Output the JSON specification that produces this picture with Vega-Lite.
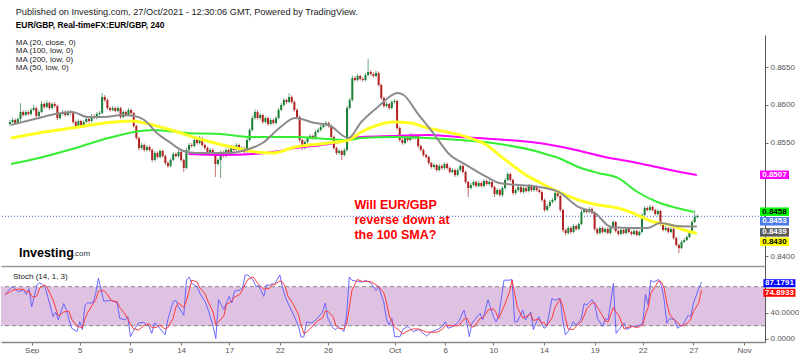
{
"$schema":"https://vega.github.io/schema/vega-lite/v6.json",
"background":"white",
"padding":{"left":0,"top":7,"right":0,"bottom":0},
"config":{"view":{"stroke":null},"font":"Liberation Sans","axis":{"labelFont":"Liberation Sans","labelFontSize":8,"labelColor":"#555555","tickColor":"#777777","domainColor":"#666666","grid":false,"title":null}},
"spacing":0,
"bounds":"flush",
"vconcat":[
{
"width":764,"height":231,
"layer":[
{"data":{"values":[{}]},"mark":{"type":"rule","color":"#3b64d8","strokeDash":[1,2],"strokeWidth":1},"encoding":{"y":{"datum":0.8453}}},
{"data":{"name":"candles"},"mark":{"type":"rule","strokeWidth":1},
 "encoding":{"x":{"field":"i","type":"quantitative","scale":{"domain":[-11.5,274.8],"nice":false,"zero":false},"axis":{"orient":"bottom","labels":false,"ticks":false,"domain":true,"domainColor":"#999999","domainWidth":1.5}},
 "y":{"field":"l","type":"quantitative","scale":{"domain":[0.83874,0.86923],"nice":false,"zero":false},"axis":{"orient":"right","values":[0.84,0.855,0.86,0.865],"format":".4f","tickSize":3,"labelPadding":2,"domainColor":"#555555"}},
 "y2":{"field":"h"},
 "color":{"condition":{"test":"datum.c >= datum.o","value":"#6fa882"},"value":"#c27070"}}},
{"data":{"name":"candles"},"mark":{"type":"bar","width":2},
 "encoding":{"x":{"field":"i","type":"quantitative"},"y":{"field":"o","type":"quantitative"},"y2":{"field":"c"},
 "color":{"condition":{"test":"datum.c >= datum.o","value":"#1a7f37"},"value":"#b22222"}}},
{"data":{"name":"ma200"},"mark":{"type":"line","color":"#ff00ff","strokeWidth":2,"interpolate":"monotone"},"encoding":{"x":{"field":"i","type":"quantitative"},"y":{"field":"v","type":"quantitative"}}},
{"data":{"name":"ma100"},"mark":{"type":"line","color":"#33ee33","strokeWidth":2,"interpolate":"monotone"},"encoding":{"x":{"field":"i","type":"quantitative"},"y":{"field":"v","type":"quantitative"}}},
{"data":{"name":"ma50"},"mark":{"type":"line","color":"#ffff22","strokeWidth":3,"interpolate":"monotone"},"encoding":{"x":{"field":"i","type":"quantitative"},"y":{"field":"v","type":"quantitative"}}},
{"data":{"name":"ma20"},"mark":{"type":"line","color":"#8c8c8c","strokeWidth":2,"interpolate":"monotone"},"encoding":{"x":{"field":"i","type":"quantitative"},"y":{"field":"v","type":"quantitative"}}},
{"data":{"values":[{}]},"mark":{"type":"text","align":"left","baseline":"middle","fontSize":9.2,"color":"#222222"},"encoding":{"x":{"datum":-7.8},"y":{"datum":0.87227},"text":{"value":"Published on Investing.com, 27/Oct/2021 - 12:30:06 GMT, Powered by TradingView."}}},
{"data":{"values":[{}]},"mark":{"type":"text","align":"left","baseline":"middle","fontSize":8.4,"fontWeight":"bold","color":"#000000"},"encoding":{"x":{"datum":-7.8},"y":{"datum":0.87055},"text":{"value":"EUR/GBP, Real-timeFX:EUR/GBP, 240"}}},
{"data":{"values":[{}]},"mark":{"type":"text","align":"left","baseline":"top","fontSize":8,"lineHeight":8.4,"color":"#222222"},"encoding":{"x":{"datum":-7.8},"y":{"datum":0.8687},"text":{"value":["MA (20, close, 0)","MA (100, low, 0)","MA (200, low, 0)","MA (50, low, 0)"]}}},
{"data":{"values":[{}]},"mark":{"type":"text","align":"left","baseline":"middle","fontSize":12.5,"fontWeight":"bold","color":"#000000"},"encoding":{"x":{"datum":-6.6},"y":{"datum":0.84045},"text":{"value":"Investing"}}},
{"data":{"values":[{}]},"mark":{"type":"text","align":"left","baseline":"middle","fontSize":8,"color":"#333333"},"encoding":{"x":{"datum":13.9},"y":{"datum":0.8403},"text":{"value":".com"}}},
{"data":{"values":[{}]},"mark":{"type":"text","align":"left","baseline":"top","fontSize":12.5,"fontWeight":"bold","lineHeight":15,"color":"#ff0000"},"encoding":{"x":{"datum":120.8},"y":{"datum":0.84758},"text":{"value":["Will EUR/GBP","reverse down at","the 100 SMA?"]}}},
{"data":{"name":"plabels"},"mark":{"type":"tick","orient":"horizontal","size":29,"thickness":8.5,"opacity":1},"encoding":{"x":{"datum":280.3},"y":{"field":"at","type":"quantitative"},"color":{"field":"s","type":"nominal","legend":null,"scale":{"domain":["MA200","MA100","Last","MA20","MA50","K","D"],"range":["#ff00ff","#00ff00","#4a7be6","#5a5a5a","#ffff00","#0000ff","#ff0000"]}}}},
{"data":{"name":"plabels"},"mark":{"type":"text","align":"center","baseline":"middle","fontSize":8,"fontWeight":"bold"},"encoding":{"x":{"datum":280.3},"y":{"field":"at","type":"quantitative"},"text":{"field":"v","type":"quantitative","format":".4f"},"fill":{"field":"s","type":"nominal","legend":null,"scale":{"domain":["MA200","MA100","Last","MA20","MA50","K","D"],"range":["#ffffff","#000000","#ffffff","#ffffff","#000000","#ffffff","#ffffff"]}}}}
]
},
{
"width":764,"height":76,
"layer":[
{"data":{"values":[{}]},"mark":{"type":"rect","color":"#dfc1e1"},"encoding":{"x":{"datum":-11.5},"x2":{"datum":274.8},"y":{"datum":20},"y2":{"datum":80}}},
{"data":{"values":[{"v":20},{"v":80}]},"mark":{"type":"rule","color":"#888888","strokeDash":[4,3],"strokeWidth":1},"encoding":{"y":{"field":"v","type":"quantitative"}}},
{"data":{"name":"stoch"},"mark":{"type":"line","color":"#5b5bff","strokeWidth":1,"opacity":0.9},
 "encoding":{"x":{"field":"i","type":"quantitative","scale":{"domain":[-11.5,274.8],"nice":false,"zero":false},"axis":{"orient":"bottom","values":[0,18,37,56,74,93,111,136,155,173,192,211,229,248,267],"labelExpr":"['Sep','5','9','14','17','22','26','Oct','6','10','14','19','22','27','Nov'][indexof([0,18,37,56,74,93,111,136,155,173,192,211,229,248,267], datum.value)]","tickSize":3,"labelPadding":1,"domainColor":"#888888","domainWidth":1.5}},
 "y":{"field":"k","type":"quantitative","scale":{"domain":[-5.1,111.8],"nice":false,"zero":false},"axis":{"orient":"right","values":[0,40],"format":".4f","tickSize":3,"labelPadding":2,"domainColor":"#555555"}}}},
{"data":{"name":"stoch"},"mark":{"type":"line","color":"#ff3b3b","strokeWidth":1},"encoding":{"x":{"field":"i","type":"quantitative"},"y":{"field":"d","type":"quantitative"}}},
{"data":{"values":[{}]},"mark":{"type":"text","align":"left","baseline":"middle","fontSize":8,"color":"#222222"},"encoding":{"x":{"datum":-7.0},"y":{"datum":95.4},"text":{"value":"Stoch (14, 1, 3)"}}},
{"data":{"name":"slabels"},"mark":{"type":"tick","orient":"horizontal","size":32,"thickness":8,"opacity":1},"encoding":{"x":{"datum":280.2},"y":{"field":"at","type":"quantitative"},"color":{"field":"s","type":"nominal","legend":null,"scale":{"domain":["MA200","MA100","Last","MA20","MA50","K","D"],"range":["#ff00ff","#00ff00","#4a7be6","#5a5a5a","#ffff00","#0000ff","#ff0000"]}}}},
{"data":{"name":"slabels"},"mark":{"type":"text","align":"center","baseline":"middle","fontSize":8,"fontWeight":"bold"},"encoding":{"x":{"datum":280.2},"y":{"field":"at","type":"quantitative"},"text":{"field":"v","type":"quantitative","format":".4f"},"fill":{"field":"s","type":"nominal","legend":null,"scale":{"domain":["MA200","MA100","Last","MA20","MA50","K","D"],"range":["#ffffff","#000000","#ffffff","#ffffff","#000000","#ffffff","#ffffff"]}}}}
]
}
],
"datasets":{
"plabels":[{"v":0.8507,"at":0.85078,"s":"MA200"},{"v":0.8458,"at":0.84591,"s":"MA100"},{"v":0.8453,"at":0.84464,"s":"Last"},{"v":0.8439,"at":0.84318,"s":"MA20"},{"v":0.843,"at":0.84195,"s":"MA50"}],
"slabels":[{"v":87.1791,"at":85.2,"s":"K"},{"v":74.8933,"at":70.8,"s":"D"}],
"ma20":[{"i":-9.6,"v":0.85735},{"i":0.9,"v":0.85827},{"i":7.2,"v":0.8588},{"i":13.6,"v":0.85907},{"i":19.6,"v":0.85841},{"i":26,"v":0.85841},{"i":32.3,"v":0.85867},{"i":37.2,"v":0.85854},{"i":41,"v":0.85801},{"i":45.8,"v":0.85629},{"i":51.1,"v":0.85497},{"i":55.9,"v":0.85392},{"i":60.8,"v":0.85365},{"i":67.2,"v":0.85365},{"i":73.5,"v":0.85365},{"i":79.5,"v":0.85405},{"i":85.9,"v":0.85497},{"i":92.3,"v":0.85695},{"i":98.3,"v":0.85827},{"i":105.8,"v":0.85761},{"i":111,"v":0.85735},{"i":118.5,"v":0.85563},{"i":123.4,"v":0.85775},{"i":129.7,"v":0.85973},{"i":137.2,"v":0.86157},{"i":139.5,"v":0.86131},{"i":144.7,"v":0.85893},{"i":150.7,"v":0.85629},{"i":157.1,"v":0.85339},{"i":162,"v":0.85233},{"i":171,"v":0.85049},{"i":175.8,"v":0.84969},{"i":183.3,"v":0.84943},{"i":190.8,"v":0.84917},{"i":198.3,"v":0.84851},{"i":205.8,"v":0.84653},{"i":212.2,"v":0.84573},{"i":218.2,"v":0.84389},{"i":225.7,"v":0.84375},{"i":232,"v":0.84375},{"i":236.9,"v":0.84441},{"i":243.3,"v":0.84402},{"i":250.8,"v":0.84394}],
"ma50":[{"i":-9.6,"v":0.85563},{"i":0.9,"v":0.85629},{"i":13.6,"v":0.85695},{"i":26,"v":0.85761},{"i":36.1,"v":0.85788},{"i":41,"v":0.85761},{"i":51.1,"v":0.85669},{"i":63.4,"v":0.85537},{"i":75.8,"v":0.85431},{"i":83.3,"v":0.85379},{"i":89.7,"v":0.85365},{"i":98.3,"v":0.85445},{"i":111,"v":0.85497},{"i":118.5,"v":0.85537},{"i":123.4,"v":0.85643},{"i":129.7,"v":0.85735},{"i":135.7,"v":0.85775},{"i":142.1,"v":0.85761},{"i":148.5,"v":0.85695},{"i":156,"v":0.85643},{"i":163.5,"v":0.85577},{"i":171,"v":0.85471},{"i":175.8,"v":0.85339},{"i":180.7,"v":0.85207},{"i":185.9,"v":0.85075},{"i":190.8,"v":0.84983},{"i":198.3,"v":0.84851},{"i":205.8,"v":0.84745},{"i":213.3,"v":0.84679},{"i":220.8,"v":0.84639},{"i":228.3,"v":0.84547},{"i":233.2,"v":0.84468},{"i":240.7,"v":0.84415},{"i":245.9,"v":0.84349},{"i":250.8,"v":0.84305}],
"ma100":[{"i":-9.6,"v":0.8522},{"i":-4,"v":0.8526},{"i":0.9,"v":0.85299},{"i":13.6,"v":0.85418},{"i":26,"v":0.8555},{"i":37.2,"v":0.85643},{"i":44.7,"v":0.85669},{"i":57.1,"v":0.85629},{"i":69.8,"v":0.85616},{"i":82.2,"v":0.85577},{"i":89.7,"v":0.85577},{"i":98.3,"v":0.85577},{"i":111,"v":0.8555},{"i":118.5,"v":0.85537},{"i":123.4,"v":0.85563},{"i":135.7,"v":0.85577},{"i":148.5,"v":0.85563},{"i":160.9,"v":0.85537},{"i":173.2,"v":0.85497},{"i":190.8,"v":0.85379},{"i":198.3,"v":0.85299},{"i":205.8,"v":0.85181},{"i":213.3,"v":0.85101},{"i":220.8,"v":0.85036},{"i":228.3,"v":0.84851},{"i":235.8,"v":0.84719},{"i":243.3,"v":0.84639},{"i":249.6,"v":0.84587}],
"ma200":[{"i":57.8,"v":0.85352},{"i":70.9,"v":0.85339},{"i":82.2,"v":0.85352},{"i":89.7,"v":0.85379},{"i":98.3,"v":0.85431},{"i":111,"v":0.85484},{"i":118.5,"v":0.85537},{"i":123.4,"v":0.85577},{"i":135.7,"v":0.8559},{"i":148.5,"v":0.85603},{"i":160.9,"v":0.85577},{"i":173.2,"v":0.8555},{"i":190.8,"v":0.85497},{"i":203.2,"v":0.85418},{"i":215.9,"v":0.85313},{"i":228.3,"v":0.85233},{"i":240.7,"v":0.85141},{"i":250.8,"v":0.85075}],
"stoch":[{"i":-10,"k":67,"d":68},{"i":-8,"k":77,"d":72},{"i":-7,"k":80,"d":75},{"i":-5,"k":72,"d":76},{"i":-3,"k":75,"d":76},{"i":-2,"k":68,"d":72},{"i":-1,"k":77,"d":73},{"i":0,"k":49,"d":65},{"i":1,"k":65,"d":64},{"i":2,"k":83,"d":66},{"i":3,"k":86,"d":78},{"i":5,"k":80,"d":83},{"i":6,"k":65,"d":77},{"i":8,"k":34,"d":60},{"i":9,"k":41,"d":47},{"i":10,"k":29,"d":35},{"i":12,"k":54,"d":41},{"i":13,"k":44,"d":42},{"i":14,"k":29,"d":42},{"i":15,"k":16,"d":30},{"i":17,"k":11,"d":19},{"i":18,"k":26,"d":18},{"i":19,"k":14,"d":17},{"i":20,"k":52,"d":31},{"i":21,"k":55,"d":40},{"i":23,"k":55,"d":54},{"i":24,"k":70,"d":60},{"i":25,"k":93,"d":73},{"i":27,"k":58,"d":74},{"i":28,"k":58,"d":70},{"i":30,"k":59,"d":58},{"i":32,"k":55,"d":57},{"i":33,"k":31,"d":48},{"i":35,"k":29,"d":38},{"i":36,"k":34,"d":31},{"i":37,"k":3,"d":22},{"i":38,"k":11,"d":16},{"i":40,"k":24,"d":13},{"i":42,"k":25,"d":20},{"i":44,"k":19,"d":23},{"i":45,"k":8,"d":17},{"i":46,"k":24,"d":17},{"i":47,"k":22,"d":18},{"i":48,"k":16,"d":21},{"i":50,"k":6,"d":15},{"i":51,"k":29,"d":17},{"i":53,"k":57,"d":31},{"i":54,"k":59,"d":48},{"i":55,"k":49,"d":55},{"i":57,"k":36,"d":48},{"i":58,"k":90,"d":58},{"i":59,"k":95,"d":74},{"i":60,"k":85,"d":90},{"i":62,"k":80,"d":87},{"i":63,"k":70,"d":78},{"i":65,"k":57,"d":69},{"i":66,"k":46,"d":58},{"i":68,"k":19,"d":41},{"i":69,"k":0,"d":22},{"i":70,"k":60,"d":26},{"i":72,"k":45,"d":35},{"i":73,"k":55,"d":53},{"i":74,"k":65,"d":55},{"i":75,"k":55,"d":58},{"i":76,"k":73,"d":64},{"i":78,"k":75,"d":68},{"i":79,"k":78,"d":75},{"i":80,"k":98,"d":84},{"i":81,"k":98,"d":91},{"i":83,"k":90,"d":95},{"i":84,"k":80,"d":89},{"i":85,"k":82,"d":84},{"i":87,"k":65,"d":76},{"i":88,"k":83,"d":77},{"i":89,"k":82,"d":77},{"i":90,"k":84,"d":83},{"i":91,"k":84,"d":83},{"i":93,"k":98,"d":89},{"i":94,"k":78,"d":87},{"i":95,"k":65,"d":80},{"i":96,"k":55,"d":66},{"i":98,"k":38,"d":53},{"i":100,"k":19,"d":37},{"i":101,"k":2,"d":20},{"i":102,"k":3,"d":8},{"i":103,"k":26,"d":10},{"i":105,"k":24,"d":18},{"i":107,"k":31,"d":27},{"i":109,"k":41,"d":32},{"i":110,"k":55,"d":42},{"i":111,"k":31,"d":42},{"i":113,"k":16,"d":34},{"i":114,"k":14,"d":20},{"i":115,"k":19,"d":16},{"i":117,"k":11,"d":15},{"i":118,"k":36,"d":22},{"i":119,"k":95,"d":47},{"i":120,"k":90,"d":74},{"i":122,"k":88,"d":91},{"i":124,"k":87,"d":88},{"i":125,"k":90,"d":88},{"i":127,"k":86,"d":88},{"i":129,"k":74,"d":83},{"i":130,"k":80,"d":80},{"i":132,"k":55,"d":70},{"i":133,"k":29,"d":55},{"i":134,"k":21,"d":35},{"i":135,"k":31,"d":27},{"i":136,"k":3,"d":18},{"i":138,"k":3,"d":12},{"i":139,"k":14,"d":7},{"i":141,"k":19,"d":12},{"i":143,"k":11,"d":15},{"i":145,"k":14,"d":15},{"i":148,"k":4,"d":10},{"i":150,"k":11,"d":10},{"i":152,"k":14,"d":10},{"i":154,"k":19,"d":15},{"i":155,"k":26,"d":20},{"i":156,"k":16,"d":20},{"i":158,"k":19,"d":20},{"i":160,"k":26,"d":20},{"i":162,"k":44,"d":30},{"i":163,"k":26,"d":32},{"i":164,"k":3,"d":24},{"i":165,"k":24,"d":18},{"i":166,"k":29,"d":19},{"i":168,"k":39,"d":31},{"i":169,"k":29,"d":32},{"i":170,"k":44,"d":37},{"i":171,"k":60,"d":44},{"i":173,"k":34,"d":46},{"i":174,"k":26,"d":40},{"i":175,"k":34,"d":31},{"i":177,"k":90,"d":50},{"i":179,"k":90,"d":71},{"i":180,"k":91,"d":90},{"i":181,"k":26,"d":69},{"i":182,"k":26,"d":48},{"i":184,"k":44,"d":32},{"i":185,"k":29,"d":33},{"i":187,"k":41,"d":38},{"i":188,"k":14,"d":28},{"i":190,"k":34,"d":30},{"i":191,"k":24,"d":24},{"i":192,"k":16,"d":25},{"i":193,"k":19,"d":20},{"i":195,"k":62,"d":32},{"i":196,"k":59,"d":47},{"i":198,"k":62,"d":61},{"i":199,"k":29,"d":50},{"i":200,"k":6,"d":32},{"i":201,"k":11,"d":15},{"i":203,"k":26,"d":14},{"i":204,"k":21,"d":19},{"i":206,"k":31,"d":26},{"i":207,"k":54,"d":35},{"i":208,"k":52,"d":46},{"i":210,"k":60,"d":55},{"i":211,"k":54,"d":55},{"i":212,"k":31,"d":48},{"i":214,"k":19,"d":35},{"i":215,"k":31,"d":27},{"i":216,"k":29,"d":26},{"i":218,"k":85,"d":48},{"i":219,"k":8,"d":41},{"i":220,"k":14,"d":36},{"i":222,"k":24,"d":15},{"i":223,"k":14,"d":17},{"i":225,"k":19,"d":19},{"i":227,"k":19,"d":17},{"i":229,"k":24,"d":21},{"i":230,"k":68,"d":37},{"i":231,"k":52,"d":48},{"i":232,"k":90,"d":70},{"i":233,"k":87,"d":76},{"i":235,"k":91,"d":89},{"i":236,"k":82,"d":87},{"i":237,"k":60,"d":78},{"i":238,"k":24,"d":55},{"i":239,"k":31,"d":38},{"i":241,"k":29,"d":28},{"i":242,"k":16,"d":25},{"i":243,"k":19,"d":21},{"i":244,"k":21,"d":19},{"i":246,"k":36,"d":25},{"i":247,"k":34,"d":30},{"i":248,"k":55,"d":42},{"i":250,"k":77,"d":55},{"i":251,"k":87.18,"d":74.89}],
"candles":[
{"i":-10,"o":0.85748,"h":0.858,"l":0.85725,"c":0.85775},
{"i":-9,"o":0.85775,"h":0.8583,"l":0.85755,"c":0.85801},
{"i":-8,"o":0.85801,"h":0.8582,"l":0.8574,"c":0.85761},
{"i":-7,"o":0.85761,"h":0.85835,"l":0.85745,"c":0.85814},
{"i":-6,"o":0.85814,"h":0.86025,"l":0.85761,"c":0.85907},
{"i":-5,"o":0.85907,"h":0.8593,"l":0.85845,"c":0.85867},
{"i":-4,"o":0.85867,"h":0.85935,"l":0.8585,"c":0.85907},
{"i":-3,"o":0.85907,"h":0.85925,"l":0.8586,"c":0.8588},
{"i":-2,"o":0.8588,"h":0.8596,"l":0.8586,"c":0.85933},
{"i":-1,"o":0.85933,"h":0.86,"l":0.85915,"c":0.85959},
{"i":0,"o":0.85959,"h":0.8598,"l":0.8583,"c":0.85854},
{"i":1,"o":0.85854,"h":0.8593,"l":0.85835,"c":0.85907},
{"i":2,"o":0.85907,"h":0.8605,"l":0.8589,"c":0.86012},
{"i":3,"o":0.86012,"h":0.86035,"l":0.8595,"c":0.85973},
{"i":4,"o":0.85973,"h":0.8606,"l":0.85955,"c":0.86025},
{"i":5,"o":0.86025,"h":0.86045,"l":0.85935,"c":0.85959},
{"i":6,"o":0.85959,"h":0.86035,"l":0.8594,"c":0.86012},
{"i":7,"o":0.86012,"h":0.8604,"l":0.85965,"c":0.85986},
{"i":8,"o":0.85986,"h":0.86005,"l":0.858,"c":0.85827},
{"i":9,"o":0.85827,"h":0.85905,"l":0.8581,"c":0.8588},
{"i":10,"o":0.8588,"h":0.85935,"l":0.8586,"c":0.85907},
{"i":11,"o":0.85907,"h":0.85925,"l":0.85845,"c":0.85867},
{"i":12,"o":0.85867,"h":0.8593,"l":0.8585,"c":0.85907},
{"i":13,"o":0.85907,"h":0.8593,"l":0.8587,"c":0.85893},
{"i":14,"o":0.85893,"h":0.8591,"l":0.8575,"c":0.85775},
{"i":15,"o":0.85775,"h":0.85795,"l":0.857,"c":0.85722},
{"i":16,"o":0.85722,"h":0.8581,"l":0.85705,"c":0.85788},
{"i":17,"o":0.85788,"h":0.85805,"l":0.857,"c":0.85722},
{"i":18,"o":0.85722,"h":0.858,"l":0.85705,"c":0.85775},
{"i":19,"o":0.85775,"h":0.8584,"l":0.85755,"c":0.85814},
{"i":20,"o":0.85814,"h":0.85835,"l":0.85765,"c":0.85788},
{"i":21,"o":0.85788,"h":0.8588,"l":0.8577,"c":0.85854},
{"i":22,"o":0.85854,"h":0.85875,"l":0.8581,"c":0.85827},
{"i":23,"o":0.85827,"h":0.85905,"l":0.8581,"c":0.8588},
{"i":24,"o":0.8588,"h":0.8592,"l":0.8586,"c":0.85893},
{"i":25,"o":0.85893,"h":0.86157,"l":0.85875,"c":0.86105},
{"i":26,"o":0.86105,"h":0.8613,"l":0.8604,"c":0.86065},
{"i":27,"o":0.86065,"h":0.86085,"l":0.85935,"c":0.85959},
{"i":28,"o":0.85959,"h":0.8598,"l":0.8591,"c":0.85933},
{"i":29,"o":0.85933,"h":0.85985,"l":0.85915,"c":0.85959},
{"i":30,"o":0.85959,"h":0.85975,"l":0.859,"c":0.8592},
{"i":31,"o":0.8592,"h":0.85985,"l":0.859,"c":0.85959},
{"i":32,"o":0.85959,"h":0.85975,"l":0.85815,"c":0.85841},
{"i":33,"o":0.85841,"h":0.8593,"l":0.85825,"c":0.85907},
{"i":34,"o":0.85907,"h":0.85925,"l":0.85845,"c":0.85867},
{"i":35,"o":0.85867,"h":0.8596,"l":0.8585,"c":0.85933},
{"i":36,"o":0.85933,"h":0.8595,"l":0.8587,"c":0.85893},
{"i":37,"o":0.85893,"h":0.8591,"l":0.857,"c":0.85722},
{"i":38,"o":0.85722,"h":0.8574,"l":0.8554,"c":0.85563},
{"i":39,"o":0.85563,"h":0.8558,"l":0.854,"c":0.85431},
{"i":40,"o":0.85431,"h":0.855,"l":0.8541,"c":0.85471},
{"i":41,"o":0.85471,"h":0.8549,"l":0.85385,"c":0.85405},
{"i":42,"o":0.85405,"h":0.8547,"l":0.85385,"c":0.85445},
{"i":43,"o":0.85445,"h":0.85465,"l":0.85385,"c":0.85405},
{"i":44,"o":0.85405,"h":0.85425,"l":0.85245,"c":0.85273},
{"i":45,"o":0.85273,"h":0.8539,"l":0.85255,"c":0.85365},
{"i":46,"o":0.85365,"h":0.85385,"l":0.8529,"c":0.85313},
{"i":47,"o":0.85313,"h":0.85415,"l":0.85295,"c":0.85392},
{"i":48,"o":0.85392,"h":0.8541,"l":0.85305,"c":0.85326},
{"i":49,"o":0.85326,"h":0.85345,"l":0.8521,"c":0.85233},
{"i":50,"o":0.85233,"h":0.85255,"l":0.8517,"c":0.85194},
{"i":51,"o":0.85194,"h":0.853,"l":0.85175,"c":0.85273},
{"i":52,"o":0.85273,"h":0.85375,"l":0.85255,"c":0.85352},
{"i":53,"o":0.85352,"h":0.8537,"l":0.85305,"c":0.85326},
{"i":54,"o":0.85326,"h":0.854,"l":0.85305,"c":0.85379},
{"i":55,"o":0.85379,"h":0.85395,"l":0.8525,"c":0.85273},
{"i":56,"o":0.85273,"h":0.8529,"l":0.85115,"c":0.85167},
{"i":57,"o":0.85167,"h":0.8543,"l":0.8515,"c":0.85405},
{"i":58,"o":0.85405,"h":0.855,"l":0.85385,"c":0.85471},
{"i":59,"o":0.85471,"h":0.85495,"l":0.85435,"c":0.85458},
{"i":60,"o":0.85458,"h":0.85565,"l":0.8544,"c":0.85537},
{"i":61,"o":0.85537,"h":0.85555,"l":0.85475,"c":0.85497},
{"i":62,"o":0.85497,"h":0.8559,"l":0.8548,"c":0.85563},
{"i":63,"o":0.85563,"h":0.8558,"l":0.8545,"c":0.85471},
{"i":64,"o":0.85471,"h":0.8549,"l":0.8541,"c":0.85431},
{"i":65,"o":0.85431,"h":0.8545,"l":0.85345,"c":0.85365},
{"i":66,"o":0.85365,"h":0.8543,"l":0.85345,"c":0.85405},
{"i":67,"o":0.85405,"h":0.85425,"l":0.8533,"c":0.85352},
{"i":68,"o":0.85352,"h":0.8537,"l":0.85049,"c":0.8522},
{"i":69,"o":0.8522,"h":0.85295,"l":0.852,"c":0.85273},
{"i":70,"o":0.85273,"h":0.854,"l":0.85036,"c":0.85379},
{"i":71,"o":0.85379,"h":0.85395,"l":0.85305,"c":0.85326},
{"i":72,"o":0.85326,"h":0.8543,"l":0.85305,"c":0.85405},
{"i":73,"o":0.85405,"h":0.85425,"l":0.85345,"c":0.85365},
{"i":74,"o":0.85365,"h":0.8547,"l":0.85345,"c":0.85445},
{"i":75,"o":0.85445,"h":0.85465,"l":0.85385,"c":0.85405},
{"i":76,"o":0.85405,"h":0.85495,"l":0.85385,"c":0.85471},
{"i":77,"o":0.85471,"h":0.8549,"l":0.85385,"c":0.85405},
{"i":78,"o":0.85405,"h":0.85455,"l":0.85385,"c":0.85431},
{"i":79,"o":0.85431,"h":0.8545,"l":0.85355,"c":0.85379},
{"i":80,"o":0.85379,"h":0.8556,"l":0.8536,"c":0.85537},
{"i":81,"o":0.85537,"h":0.85695,"l":0.85515,"c":0.85669},
{"i":82,"o":0.85669,"h":0.8586,"l":0.8565,"c":0.85827},
{"i":83,"o":0.85827,"h":0.8594,"l":0.85805,"c":0.85907},
{"i":84,"o":0.85907,"h":0.8593,"l":0.85805,"c":0.85827},
{"i":85,"o":0.85827,"h":0.85895,"l":0.85805,"c":0.85867},
{"i":86,"o":0.85867,"h":0.85885,"l":0.8575,"c":0.85775},
{"i":87,"o":0.85775,"h":0.8585,"l":0.85755,"c":0.85827},
{"i":88,"o":0.85827,"h":0.85845,"l":0.85725,"c":0.85748},
{"i":89,"o":0.85748,"h":0.85825,"l":0.8573,"c":0.85801},
{"i":90,"o":0.85801,"h":0.8582,"l":0.8574,"c":0.85761},
{"i":91,"o":0.85761,"h":0.8585,"l":0.8574,"c":0.85827},
{"i":92,"o":0.85827,"h":0.8596,"l":0.8581,"c":0.85933},
{"i":93,"o":0.85933,"h":0.86025,"l":0.85915,"c":0.85999},
{"i":94,"o":0.85999,"h":0.8609,"l":0.8598,"c":0.86065},
{"i":95,"o":0.86065,"h":0.86085,"l":0.86015,"c":0.86039},
{"i":96,"o":0.86039,"h":0.86157,"l":0.8602,"c":0.86105},
{"i":97,"o":0.86105,"h":0.86125,"l":0.86015,"c":0.86039},
{"i":98,"o":0.86039,"h":0.8606,"l":0.8591,"c":0.85933},
{"i":99,"o":0.85933,"h":0.85955,"l":0.8582,"c":0.85841},
{"i":100,"o":0.85841,"h":0.8586,"l":0.85505,"c":0.85537},
{"i":101,"o":0.85537,"h":0.85555,"l":0.85405,"c":0.85431},
{"i":102,"o":0.85431,"h":0.85535,"l":0.8541,"c":0.85511},
{"i":103,"o":0.85511,"h":0.85585,"l":0.8549,"c":0.85563},
{"i":104,"o":0.85563,"h":0.85615,"l":0.85545,"c":0.8559},
{"i":105,"o":0.8559,"h":0.8561,"l":0.8554,"c":0.85563},
{"i":106,"o":0.85563,"h":0.8567,"l":0.85545,"c":0.85643},
{"i":107,"o":0.85643,"h":0.85695,"l":0.85625,"c":0.85669},
{"i":108,"o":0.85669,"h":0.85735,"l":0.8565,"c":0.85709},
{"i":109,"o":0.85709,"h":0.8576,"l":0.8569,"c":0.85735},
{"i":110,"o":0.85735,"h":0.8579,"l":0.85715,"c":0.85761},
{"i":111,"o":0.85761,"h":0.8578,"l":0.857,"c":0.85722},
{"i":112,"o":0.85722,"h":0.8574,"l":0.85555,"c":0.85577},
{"i":113,"o":0.85577,"h":0.85595,"l":0.8541,"c":0.85431},
{"i":114,"o":0.85431,"h":0.8545,"l":0.8534,"c":0.85365},
{"i":115,"o":0.85365,"h":0.85415,"l":0.85345,"c":0.85392},
{"i":116,"o":0.85392,"h":0.8541,"l":0.85273,"c":0.85339},
{"i":117,"o":0.85339,"h":0.8543,"l":0.8532,"c":0.85405},
{"i":118,"o":0.85405,"h":0.8599,"l":0.85385,"c":0.85959},
{"i":119,"o":0.85959,"h":0.86095,"l":0.8594,"c":0.86065},
{"i":120,"o":0.86065,"h":0.8639,"l":0.86045,"c":0.86355},
{"i":121,"o":0.86355,"h":0.8638,"l":0.86305,"c":0.86329},
{"i":122,"o":0.86329,"h":0.8641,"l":0.8631,"c":0.86382},
{"i":123,"o":0.86382,"h":0.864,"l":0.8632,"c":0.86342},
{"i":124,"o":0.86342,"h":0.86365,"l":0.86305,"c":0.86329},
{"i":125,"o":0.86329,"h":0.8642,"l":0.8631,"c":0.86395},
{"i":126,"o":0.86395,"h":0.86606,"l":0.86375,"c":0.86435},
{"i":127,"o":0.86435,"h":0.8646,"l":0.86385,"c":0.86408},
{"i":128,"o":0.86408,"h":0.8643,"l":0.8636,"c":0.86382},
{"i":129,"o":0.86382,"h":0.8645,"l":0.86365,"c":0.86421},
{"i":130,"o":0.86421,"h":0.8644,"l":0.8624,"c":0.86263},
{"i":131,"o":0.86263,"h":0.8628,"l":0.86065,"c":0.86091},
{"i":132,"o":0.86091,"h":0.8611,"l":0.8596,"c":0.85986},
{"i":133,"o":0.85986,"h":0.8604,"l":0.85965,"c":0.86012},
{"i":134,"o":0.86012,"h":0.8603,"l":0.85935,"c":0.85959},
{"i":135,"o":0.85959,"h":0.86065,"l":0.8594,"c":0.86039},
{"i":136,"o":0.86039,"h":0.8608,"l":0.8602,"c":0.86052},
{"i":137,"o":0.86052,"h":0.8607,"l":0.8567,"c":0.85695},
{"i":138,"o":0.85695,"h":0.85715,"l":0.85515,"c":0.85537},
{"i":139,"o":0.85537,"h":0.8556,"l":0.85475,"c":0.85497},
{"i":140,"o":0.85497,"h":0.856,"l":0.8548,"c":0.85577},
{"i":141,"o":0.85577,"h":0.85595,"l":0.85515,"c":0.85537},
{"i":142,"o":0.85537,"h":0.8563,"l":0.8552,"c":0.85603},
{"i":143,"o":0.85603,"h":0.85625,"l":0.8554,"c":0.85563},
{"i":144,"o":0.85563,"h":0.85615,"l":0.85545,"c":0.8559},
{"i":145,"o":0.8559,"h":0.8561,"l":0.85435,"c":0.85458},
{"i":146,"o":0.85458,"h":0.85475,"l":0.85385,"c":0.85405},
{"i":147,"o":0.85405,"h":0.85425,"l":0.85315,"c":0.85339},
{"i":148,"o":0.85339,"h":0.8536,"l":0.8529,"c":0.85313},
{"i":149,"o":0.85313,"h":0.8533,"l":0.8521,"c":0.85233},
{"i":150,"o":0.85233,"h":0.8525,"l":0.8516,"c":0.85181},
{"i":151,"o":0.85181,"h":0.8523,"l":0.8516,"c":0.85207},
{"i":152,"o":0.85207,"h":0.85225,"l":0.8512,"c":0.85141},
{"i":153,"o":0.85141,"h":0.8522,"l":0.8512,"c":0.85194},
{"i":154,"o":0.85194,"h":0.85215,"l":0.85145,"c":0.85167},
{"i":155,"o":0.85167,"h":0.85245,"l":0.85145,"c":0.8522},
{"i":156,"o":0.8522,"h":0.8524,"l":0.85145,"c":0.85167},
{"i":157,"o":0.85167,"h":0.85185,"l":0.85095,"c":0.85115},
{"i":158,"o":0.85115,"h":0.85165,"l":0.85095,"c":0.85141},
{"i":159,"o":0.85141,"h":0.8516,"l":0.8505,"c":0.85075},
{"i":160,"o":0.85075,"h":0.85165,"l":0.85055,"c":0.85141},
{"i":161,"o":0.85141,"h":0.8522,"l":0.8512,"c":0.85194},
{"i":162,"o":0.85194,"h":0.85215,"l":0.85095,"c":0.85115},
{"i":163,"o":0.85115,"h":0.85135,"l":0.8496,"c":0.84983},
{"i":164,"o":0.84983,"h":0.85,"l":0.84785,"c":0.84903},
{"i":165,"o":0.84903,"h":0.8497,"l":0.84885,"c":0.84943},
{"i":166,"o":0.84943,"h":0.85005,"l":0.84925,"c":0.84983},
{"i":167,"o":0.84983,"h":0.85,"l":0.8491,"c":0.8493},
{"i":168,"o":0.8493,"h":0.84995,"l":0.8491,"c":0.84969},
{"i":169,"o":0.84969,"h":0.8499,"l":0.8491,"c":0.8493},
{"i":170,"o":0.8493,"h":0.8502,"l":0.8491,"c":0.84996},
{"i":171,"o":0.84996,"h":0.85015,"l":0.84935,"c":0.84956},
{"i":172,"o":0.84956,"h":0.8501,"l":0.84935,"c":0.84983},
{"i":173,"o":0.84983,"h":0.85,"l":0.84895,"c":0.84917},
{"i":174,"o":0.84917,"h":0.84935,"l":0.84785,"c":0.84824},
{"i":175,"o":0.84824,"h":0.849,"l":0.84805,"c":0.84877},
{"i":176,"o":0.84877,"h":0.84895,"l":0.8479,"c":0.84811},
{"i":177,"o":0.84811,"h":0.84925,"l":0.8479,"c":0.84903},
{"i":178,"o":0.84903,"h":0.8503,"l":0.84885,"c":0.85009},
{"i":179,"o":0.85009,"h":0.85115,"l":0.8499,"c":0.85088},
{"i":180,"o":0.85088,"h":0.85105,"l":0.84985,"c":0.85009},
{"i":181,"o":0.85009,"h":0.8503,"l":0.8481,"c":0.84837},
{"i":182,"o":0.84837,"h":0.849,"l":0.84815,"c":0.84877},
{"i":183,"o":0.84877,"h":0.8494,"l":0.84855,"c":0.84917},
{"i":184,"o":0.84917,"h":0.84935,"l":0.8483,"c":0.84851},
{"i":185,"o":0.84851,"h":0.84925,"l":0.8483,"c":0.84903},
{"i":186,"o":0.84903,"h":0.8492,"l":0.84845,"c":0.84864},
{"i":187,"o":0.84864,"h":0.84955,"l":0.84845,"c":0.8493},
{"i":188,"o":0.8493,"h":0.8495,"l":0.84855,"c":0.84877},
{"i":189,"o":0.84877,"h":0.8494,"l":0.84855,"c":0.84917},
{"i":190,"o":0.84917,"h":0.84935,"l":0.84855,"c":0.84877},
{"i":191,"o":0.84877,"h":0.84895,"l":0.8483,"c":0.84851},
{"i":192,"o":0.84851,"h":0.8487,"l":0.8472,"c":0.84745},
{"i":193,"o":0.84745,"h":0.84765,"l":0.8459,"c":0.84613},
{"i":194,"o":0.84613,"h":0.8469,"l":0.84595,"c":0.84666},
{"i":195,"o":0.84666,"h":0.84745,"l":0.84645,"c":0.84719},
{"i":196,"o":0.84719,"h":0.8477,"l":0.847,"c":0.84745},
{"i":197,"o":0.84745,"h":0.84865,"l":0.84725,"c":0.84837},
{"i":198,"o":0.84837,"h":0.8486,"l":0.84775,"c":0.84798},
{"i":199,"o":0.84798,"h":0.84815,"l":0.8459,"c":0.84613},
{"i":200,"o":0.84613,"h":0.8463,"l":0.8432,"c":0.84349},
{"i":201,"o":0.84349,"h":0.8437,"l":0.8428,"c":0.84309},
{"i":202,"o":0.84309,"h":0.844,"l":0.8429,"c":0.84375},
{"i":203,"o":0.84375,"h":0.84395,"l":0.843,"c":0.84323},
{"i":204,"o":0.84323,"h":0.84425,"l":0.84305,"c":0.84402},
{"i":205,"o":0.84402,"h":0.8442,"l":0.8434,"c":0.84362},
{"i":206,"o":0.84362,"h":0.8445,"l":0.84345,"c":0.84428},
{"i":207,"o":0.84428,"h":0.84615,"l":0.8441,"c":0.84587},
{"i":208,"o":0.84587,"h":0.8464,"l":0.8457,"c":0.84613},
{"i":209,"o":0.84613,"h":0.84635,"l":0.84565,"c":0.84587},
{"i":210,"o":0.84587,"h":0.8465,"l":0.8457,"c":0.84626},
{"i":211,"o":0.84626,"h":0.84645,"l":0.84555,"c":0.84573},
{"i":212,"o":0.84573,"h":0.8459,"l":0.84335,"c":0.84362},
{"i":213,"o":0.84362,"h":0.8438,"l":0.84285,"c":0.84309},
{"i":214,"o":0.84309,"h":0.844,"l":0.8429,"c":0.84375},
{"i":215,"o":0.84375,"h":0.84395,"l":0.843,"c":0.84323},
{"i":216,"o":0.84323,"h":0.84385,"l":0.84305,"c":0.84362},
{"i":217,"o":0.84362,"h":0.8438,"l":0.8429,"c":0.84309},
{"i":218,"o":0.84309,"h":0.844,"l":0.8429,"c":0.84375},
{"i":219,"o":0.84375,"h":0.8448,"l":0.84355,"c":0.84455},
{"i":220,"o":0.84455,"h":0.8447,"l":0.84315,"c":0.84336},
{"i":221,"o":0.84336,"h":0.84355,"l":0.84275,"c":0.84296},
{"i":222,"o":0.84296,"h":0.8437,"l":0.8428,"c":0.84349},
{"i":223,"o":0.84349,"h":0.84365,"l":0.8429,"c":0.84309},
{"i":224,"o":0.84309,"h":0.84385,"l":0.8429,"c":0.84362},
{"i":225,"o":0.84362,"h":0.8438,"l":0.84305,"c":0.84323},
{"i":226,"o":0.84323,"h":0.8434,"l":0.84275,"c":0.84296},
{"i":227,"o":0.84296,"h":0.8436,"l":0.8428,"c":0.84336},
{"i":228,"o":0.84336,"h":0.84355,"l":0.84265,"c":0.84283},
{"i":229,"o":0.84283,"h":0.84345,"l":0.84265,"c":0.84323},
{"i":230,"o":0.84323,"h":0.8457,"l":0.84305,"c":0.84547},
{"i":231,"o":0.84547,"h":0.84665,"l":0.8453,"c":0.84639},
{"i":232,"o":0.84639,"h":0.8466,"l":0.84595,"c":0.84613},
{"i":233,"o":0.84613,"h":0.8468,"l":0.84595,"c":0.84653},
{"i":234,"o":0.84653,"h":0.8467,"l":0.84595,"c":0.84613},
{"i":235,"o":0.84613,"h":0.8463,"l":0.8454,"c":0.8456},
{"i":236,"o":0.8456,"h":0.8462,"l":0.8454,"c":0.846},
{"i":237,"o":0.846,"h":0.84615,"l":0.84405,"c":0.84428},
{"i":238,"o":0.84428,"h":0.84445,"l":0.8433,"c":0.84349},
{"i":239,"o":0.84349,"h":0.844,"l":0.8433,"c":0.84375},
{"i":240,"o":0.84375,"h":0.8439,"l":0.843,"c":0.84323},
{"i":241,"o":0.84323,"h":0.84385,"l":0.84305,"c":0.84362},
{"i":242,"o":0.84362,"h":0.8438,"l":0.8422,"c":0.84243},
{"i":243,"o":0.84243,"h":0.8426,"l":0.8413,"c":0.84151},
{"i":244,"o":0.84151,"h":0.8417,"l":0.84045,"c":0.84111},
{"i":245,"o":0.84111,"h":0.84215,"l":0.84095,"c":0.84191},
{"i":246,"o":0.84191,"h":0.8424,"l":0.84175,"c":0.84217},
{"i":247,"o":0.84217,"h":0.8428,"l":0.842,"c":0.84257},
{"i":248,"o":0.84257,"h":0.84345,"l":0.8424,"c":0.84323},
{"i":249,"o":0.84323,"h":0.8448,"l":0.84305,"c":0.84455},
{"i":250,"o":0.84455,"h":0.84613,"l":0.8444,"c":0.84521},
{"i":251,"o":0.84521,"h":0.84555,"l":0.845,"c":0.84534}
]
}
}
